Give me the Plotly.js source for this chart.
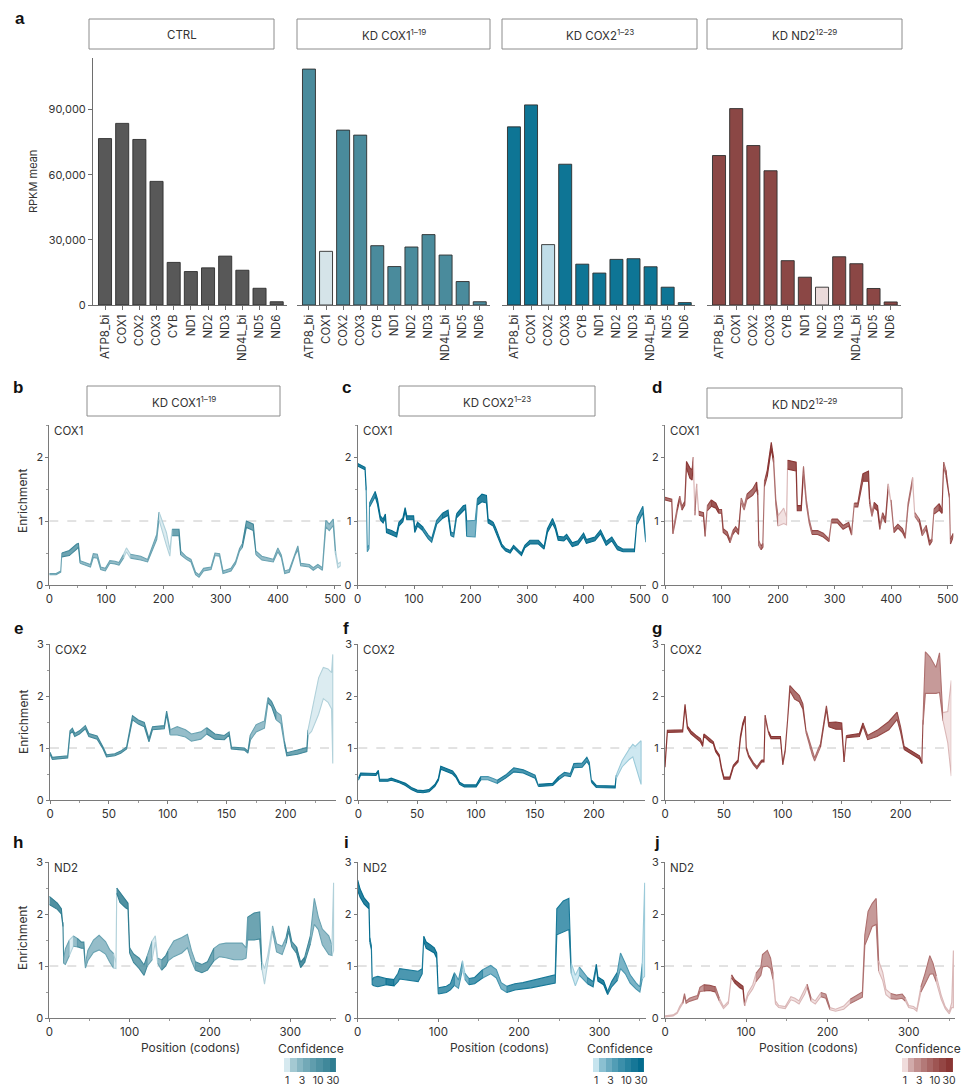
<!DOCTYPE html>
<html>
<head>
<meta charset="utf-8">
<script src="https://cdn.plot.ly/plotly-3.0.1.min.js"></script>
<style>
  html, body { margin: 0; padding: 0; background: #fff; }
  #fig { width: 974px; height: 1092px; }
</style>
</head>
<body>
<div id="fig"></div>
<script>
// ---------- Panel a: mean RPKM per mitochondrial transcript ----------
const genes = ['ATP8_bi', 'COX1', 'COX2', 'COX3', 'CYB', 'ND1', 'ND2', 'ND3', 'ND4L_bi', 'ND5', 'ND6'];
const conditions = ['CTRL', 'KD COX1<sup>1–19</sup>', 'KD COX2<sup>1–23</sup>', 'KD ND2<sup>12–29</sup>'];
const knockdownTargets = [null, 'COX1', 'COX2', 'ND2'];
const rpkmCtrl   = [76600, 83600, 76200, 56900, 19600, 15400, 17100, 22500, 16000, 7700, 1500];
const rpkmKdCox1 = [108600, 24700, 80500, 78200, 27300, 17700, 26700, 32400, 23000, 10800, 1500];
const rpkmKdCox2 = [82000, 92100, 27800, 64800, 18800, 14700, 21000, 21300, 17600, 8200, 1100];
const rpkmKdNd2  = [68800, 90400, 73400, 61800, 20400, 12800, 8200, 22200, 19000, 7600, 1400];

// ---------- Panels b–j: enrichment profiles along each ORF ----------
// pos = codon, enr = enrichment, band = half-width of the ribbon, conf = confidence
// b: COX1 in KD COX1
const cox1_kdCox1_pos  = [0,12,20,22,35,48,51,54,62,72,77,84,90,98,106,115,122,130,135,142,160,172,183,188,192,198,205,211,215,227,230,240,248,256,262,270,283,290,298,304,318,326,333,338,345,357,362,372,392,400,406,412,420,430,435,440,455,462,470,478,484,490,497,501,505,510];
const cox1_kdCox1_enr  = [0.17,0.17,0.21,0.47,0.50,0.60,0.62,0.36,0.33,0.30,0.46,0.45,0.26,0.24,0.36,0.35,0.33,0.45,0.55,0.45,0.42,0.38,0.62,0.75,1.08,0.90,0.72,0.50,0.82,0.82,0.50,0.42,0.38,0.18,0.14,0.24,0.26,0.48,0.47,0.20,0.24,0.35,0.55,0.62,0.95,0.90,0.50,0.42,0.38,0.55,0.45,0.20,0.22,0.48,0.58,0.32,0.30,0.25,0.30,0.25,0.96,0.90,0.98,0.50,0.30,0.33];
const cox1_kdCox1_band = [0.01,0.01,0.01,0.03,0.04,0.04,0.03,0.02,0.02,0.02,0.03,0.03,0.02,0.02,0.02,0.02,0.02,0.03,0.03,0.03,0.03,0.02,0.03,0.04,0.06,0.08,0.10,0.05,0.05,0.05,0.03,0.02,0.02,0.02,0.02,0.02,0.02,0.02,0.02,0.02,0.02,0.02,0.02,0.03,0.05,0.05,0.03,0.03,0.02,0.03,0.02,0.02,0.02,0.02,0.03,0.02,0.02,0.02,0.02,0.02,0.05,0.05,0.05,0.03,0.03,0.03];
const cox1_kdCox1_conf = [3,3,3,10,10,10,10,3,3,3,3,3,3,3,3,3,3,1,1,3,3,3,3,3,1,1,1,1,10,10,3,3,3,3,3,3,3,3,3,3,3,3,3,10,10,10,3,3,3,3,3,3,3,3,3,3,3,3,3,3,3,3,3,1,1,1];

// c: COX1 in KD COX2
const cox1_kdCox2_pos  = [0,13,15,17,20,21,31,35,40,45,49,51,60,69,73,80,84,87,99,101,106,115,125,131,140,150,160,165,170,175,187,191,193,208,212,220,228,231,240,245,255,262,270,276,285,290,296,305,320,330,336,345,350,355,365,370,380,390,400,405,420,430,440,450,460,470,490,495,505,510];
const cox1_kdCox2_enr  = [1.88,1.82,1.50,0.55,0.60,1.25,1.42,1.30,1.05,1.00,1.08,0.85,0.82,0.78,0.95,1.02,1.18,1.05,1.05,0.85,0.95,0.88,0.75,0.70,0.98,1.08,1.13,0.80,0.78,1.08,1.20,1.22,0.88,0.88,1.30,1.36,1.34,1.00,0.95,0.85,0.62,0.55,0.52,0.60,0.52,0.48,0.60,0.67,0.67,0.58,0.85,1.00,0.90,0.73,0.72,0.76,0.63,0.66,0.78,0.68,0.72,0.83,0.65,0.72,0.58,0.54,0.54,1.00,1.18,0.70];
const cox1_kdCox2_band = [0.02,0.02,0.02,0.03,0.03,0.03,0.04,0.04,0.03,0.03,0.03,0.03,0.03,0.03,0.03,0.03,0.03,0.03,0.03,0.03,0.03,0.03,0.03,0.03,0.03,0.04,0.04,0.03,0.03,0.03,0.04,0.03,0.12,0.13,0.05,0.06,0.06,0.03,0.03,0.03,0.02,0.02,0.02,0.02,0.02,0.02,0.02,0.03,0.03,0.02,0.03,0.04,0.03,0.03,0.03,0.03,0.03,0.03,0.03,0.03,0.03,0.03,0.03,0.03,0.03,0.02,0.02,0.05,0.05,0.03];
const cox1_kdCox2_conf = [30,30,3,3,3,10,30,30,30,30,30,30,30,30,30,30,30,30,30,30,30,10,10,10,10,30,30,10,10,30,30,30,3,3,30,30,30,30,30,30,30,30,30,30,30,30,30,30,30,30,30,30,30,30,30,30,30,30,30,30,30,30,30,30,30,30,30,10,10,10];

// d: COX1 in KD ND2
const cox1_kdNd2_pos  = [0,12,14,18,22,26,30,35,38,44,48,50,53,56,60,68,71,75,82,90,95,100,103,110,115,120,125,130,135,140,145,155,162,164,166,170,173,176,181,185,188,192,196,200,210,215,217,232,234,241,245,250,255,260,270,280,290,295,305,315,325,330,335,341,350,360,362,366,370,376,380,385,390,395,400,405,412,420,425,430,438,442,450,455,462,468,472,476,485,490,493,497,503,505,510];
const cox1_kdNd2_enr  = [1.35,1.32,0.82,1.00,1.20,1.36,1.20,1.28,1.88,1.75,1.72,1.95,1.12,1.55,1.12,1.10,0.78,1.20,1.28,1.24,1.15,1.15,0.85,0.80,0.68,0.82,0.88,0.82,1.32,1.20,1.38,1.45,1.55,1.45,0.65,0.58,0.62,1.58,1.75,2.00,2.18,1.95,1.30,1.00,1.08,1.00,1.88,1.85,1.20,1.20,1.80,1.30,1.00,0.82,0.82,0.78,0.70,1.00,1.00,0.90,0.95,0.80,1.25,1.25,1.68,1.70,1.30,1.10,1.25,1.20,0.90,1.10,1.00,1.55,1.30,0.85,0.92,0.85,0.75,1.25,1.65,1.10,1.00,0.80,0.90,0.65,0.70,1.15,1.22,1.15,1.88,1.75,1.40,0.68,0.78];
const cox1_kdNd2_band = [0.02,0.02,0.02,0.03,0.03,0.03,0.03,0.03,0.05,0.08,0.08,0.05,0.03,0.03,0.03,0.03,0.02,0.04,0.05,0.04,0.03,0.03,0.03,0.03,0.02,0.03,0.03,0.03,0.04,0.03,0.04,0.05,0.06,0.04,0.04,0.03,0.03,0.04,0.05,0.06,0.05,0.04,0.04,0.08,0.12,0.06,0.07,0.07,0.04,0.04,0.05,0.04,0.03,0.03,0.03,0.03,0.02,0.03,0.03,0.03,0.03,0.02,0.03,0.03,0.06,0.08,0.04,0.03,0.04,0.04,0.03,0.03,0.03,0.03,0.03,0.03,0.03,0.03,0.02,0.03,0.03,0.03,0.03,0.03,0.03,0.03,0.02,0.04,0.05,0.03,0.04,0.04,0.03,0.04,0.03];
const cox1_kdNd2_conf = [10,10,3,3,10,3,10,10,30,30,30,1,3,1,10,10,3,10,30,30,10,10,10,10,3,10,10,10,3,3,10,10,30,10,3,10,3,10,30,30,30,3,3,1,1,1,30,30,30,30,3,3,3,10,10,10,3,10,10,10,10,3,10,10,30,30,3,3,30,30,3,10,10,1,3,10,10,10,3,3,1,3,10,3,10,10,3,10,30,10,3,10,3,10,3];

// e: COX2 in KD COX1
const cox2_kdCox1_pos  = [0,2,15,17,19,21,25,30,33,40,45,48,55,60,65,68,70,75,80,84,87,97,99,102,108,115,120,128,133,140,148,152,154,165,168,170,175,182,185,188,192,196,199,201,210,218,219,222,228,232,236,239,240];
const cox2_kdCox1_enr  = [0.90,0.80,0.83,1.30,1.35,1.25,1.30,1.40,1.25,1.20,1.00,0.85,0.87,0.92,1.00,1.35,1.58,1.50,1.45,1.15,1.38,1.40,1.68,1.30,1.33,1.28,1.20,1.24,1.33,1.22,1.20,1.28,1.00,0.98,0.92,1.20,1.38,1.45,1.92,1.85,1.62,1.55,1.10,0.88,0.92,0.97,1.30,1.50,2.00,2.25,2.20,2.10,1.75];
const cox2_kdCox1_band = [0.02,0.02,0.02,0.03,0.03,0.03,0.03,0.03,0.03,0.03,0.02,0.02,0.02,0.02,0.02,0.03,0.04,0.04,0.04,0.03,0.03,0.03,0.03,0.05,0.08,0.07,0.07,0.07,0.06,0.05,0.04,0.03,0.02,0.02,0.02,0.05,0.07,0.07,0.05,0.05,0.08,0.08,0.03,0.03,0.04,0.04,0.05,0.18,0.35,0.30,0.32,0.35,1.05];
const cox2_kdCox1_conf = [10,10,10,10,10,10,10,10,10,10,10,10,10,10,10,10,10,10,10,10,10,10,10,3,3,3,3,3,10,10,10,10,10,10,10,3,3,3,10,10,3,3,10,10,10,10,1,1,1,1,1,1,1];

// f: COX2 in KD COX2
const cox2_kdCox2_pos  = [0,2,15,17,18,25,28,35,40,45,50,55,60,65,68,70,75,80,83,86,90,100,104,110,115,118,125,132,140,150,153,165,170,175,180,183,190,194,196,198,202,218,219,224,230,233,235,240];
const cox2_kdCox2_enr  = [0.40,0.50,0.49,0.55,0.38,0.38,0.40,0.35,0.30,0.22,0.17,0.16,0.18,0.28,0.40,0.62,0.57,0.53,0.45,0.32,0.27,0.27,0.42,0.42,0.38,0.35,0.45,0.58,0.55,0.45,0.28,0.30,0.42,0.50,0.48,0.66,0.67,0.78,0.70,0.36,0.26,0.25,0.45,0.70,0.88,0.95,0.85,0.72];
const cox2_kdCox2_band = [0.02,0.02,0.02,0.02,0.02,0.02,0.02,0.02,0.02,0.02,0.02,0.02,0.02,0.02,0.02,0.03,0.03,0.03,0.02,0.02,0.02,0.02,0.03,0.03,0.03,0.03,0.03,0.04,0.03,0.03,0.02,0.02,0.03,0.03,0.03,0.04,0.04,0.04,0.03,0.02,0.02,0.02,0.03,0.06,0.10,0.12,0.18,0.42];
const cox2_kdCox2_conf = [30,30,30,30,30,30,30,30,30,30,30,30,30,30,30,30,30,30,30,30,30,30,3,3,3,10,10,10,10,10,30,30,10,10,10,10,10,10,10,30,30,30,1,1,1,1,1,1];

// g: COX2 in KD ND2
const cox2_kdNd2_pos  = [0,2,15,17,19,22,27,30,32,33,38,41,43,46,48,50,55,58,62,64,66,68,69,71,75,78,82,84,85,88,90,98,100,102,104,106,110,114,117,120,125,127,130,132,135,137,139,145,150,152,154,165,168,172,180,190,197,200,203,210,216,218,219,221,225,230,233,236,240,243];
const cox2_kdNd2_enr  = [0.65,1.32,1.33,1.82,1.40,1.30,1.20,1.15,1.05,1.25,1.15,1.10,0.95,0.85,0.60,0.42,0.42,0.65,0.75,1.20,1.45,1.58,1.00,0.85,0.70,0.62,0.75,0.75,1.60,1.30,1.20,1.20,0.70,0.95,1.50,2.15,2.02,1.95,1.80,1.30,0.90,0.78,0.95,1.05,1.45,1.78,1.45,1.43,1.42,0.75,1.22,1.25,1.45,1.20,1.28,1.43,1.62,1.35,1.00,0.90,0.82,0.72,1.50,2.45,2.40,2.30,2.45,1.60,1.40,1.38];
const cox2_kdNd2_band = [0.02,0.02,0.02,0.02,0.02,0.03,0.03,0.03,0.02,0.02,0.03,0.02,0.02,0.02,0.02,0.02,0.02,0.02,0.02,0.03,0.03,0.03,0.02,0.02,0.02,0.02,0.02,0.02,0.03,0.02,0.02,0.02,0.02,0.02,0.03,0.05,0.08,0.06,0.05,0.03,0.03,0.03,0.03,0.03,0.03,0.03,0.04,0.07,0.06,0.02,0.02,0.03,0.03,0.04,0.06,0.08,0.07,0.05,0.03,0.03,0.03,0.02,0.05,0.40,0.35,0.25,0.38,0.08,0.30,0.92];
const cox2_kdNd2_conf = [30,30,30,30,30,30,30,30,30,30,30,30,30,30,30,30,30,30,30,30,30,10,10,10,10,10,30,30,10,30,30,30,10,10,10,10,10,10,10,3,3,3,3,10,10,10,30,30,30,10,30,30,10,10,10,10,10,10,30,30,30,10,3,3,3,3,3,1,1,1];

// h: ND2 in KD COX1
const nd2_kdCox1_pos  = [0,10,15,17,18,20,25,30,35,40,43,45,48,55,62,70,75,80,83,84,88,95,98,100,105,112,118,122,128,132,135,140,145,148,155,165,172,177,182,190,197,205,212,220,230,240,245,247,255,262,265,268,272,278,283,290,295,298,302,308,313,318,325,330,335,340,348,352,354];
const nd2_kdCox1_enr  = [2.26,2.15,2.05,1.80,1.10,1.18,1.35,1.48,1.45,1.40,1.40,1.00,1.20,1.38,1.45,1.35,1.20,1.10,1.00,2.45,2.32,2.20,2.15,1.30,1.15,1.05,0.92,1.10,1.30,1.52,1.10,1.02,1.10,1.20,1.33,1.40,1.48,1.20,1.00,0.95,1.00,1.22,1.30,1.30,1.28,1.28,1.25,1.72,1.76,1.78,1.00,0.80,1.10,1.72,1.35,1.30,1.50,1.72,1.42,1.30,1.02,1.12,1.50,2.05,1.82,1.56,1.40,1.30,1.95];
const nd2_kdCox1_band = [0.08,0.06,0.05,0.04,0.05,0.15,0.15,0.10,0.08,0.06,0.06,0.04,0.10,0.12,0.14,0.12,0.12,0.14,0.05,0.05,0.10,0.08,0.06,0.05,0.08,0.10,0.10,0.10,0.18,0.06,0.05,0.10,0.10,0.10,0.15,0.15,0.13,0.10,0.08,0.08,0.08,0.12,0.12,0.14,0.16,0.16,0.10,0.22,0.26,0.26,0.08,0.15,0.10,0.05,0.08,0.08,0.06,0.05,0.05,0.06,0.05,0.05,0.08,0.25,0.12,0.15,0.18,0.10,0.65];
const nd2_kdCox1_conf = [30,30,30,10,3,3,1,3,10,10,10,3,3,3,3,3,3,1,1,30,30,30,30,10,10,10,10,3,1,1,3,10,10,3,3,3,3,3,10,10,10,3,3,3,3,3,3,10,10,10,1,1,1,3,3,3,10,10,10,30,30,10,3,3,3,3,3,1,1];

// i: ND2 in KD COX2
const nd2_kdCox2_pos  = [0,3,8,14,15,17,18,20,25,35,45,50,52,65,75,80,82,85,90,95,98,100,110,115,120,125,130,133,138,145,155,165,172,178,185,195,205,215,225,235,245,247,255,262,265,270,275,285,292,296,298,305,310,315,322,326,332,338,345,350,353,356];
const nd2_kdCox2_enr  = [2.55,2.40,2.25,2.15,1.50,1.35,0.68,0.70,0.70,0.70,0.68,0.78,0.85,0.82,0.80,0.90,1.52,1.40,1.35,1.30,1.20,0.52,0.55,0.60,0.75,0.65,1.02,0.80,0.70,0.72,0.85,0.93,0.85,0.62,0.55,0.60,0.62,0.65,0.68,0.72,0.75,1.85,1.95,2.00,0.95,0.72,0.90,0.72,0.65,1.00,0.75,0.68,0.48,0.65,0.80,1.10,0.95,0.75,0.62,0.55,0.90,1.70];
const nd2_kdCox2_band = [0.10,0.08,0.06,0.05,0.04,0.04,0.04,0.08,0.10,0.06,0.06,0.08,0.10,0.10,0.10,0.05,0.05,0.06,0.06,0.05,0.05,0.06,0.06,0.06,0.12,0.08,0.08,0.06,0.06,0.06,0.08,0.08,0.08,0.06,0.06,0.06,0.06,0.07,0.08,0.08,0.08,0.25,0.30,0.30,0.10,0.10,0.08,0.06,0.05,0.03,0.04,0.04,0.03,0.05,0.08,0.15,0.10,0.08,0.06,0.05,0.15,0.90];
const nd2_kdCox2_conf = [30,30,30,30,10,10,10,10,10,30,10,10,10,10,10,10,30,30,30,30,30,10,10,10,3,3,1,3,10,10,3,3,3,3,10,10,10,10,10,10,10,10,10,10,1,1,3,10,10,30,30,30,10,10,3,3,3,3,3,3,1,1];

// j: ND2 in KD ND2
const nd2_kdNd2_pos  = [0,10,15,18,22,24,26,30,35,40,43,48,55,62,67,72,78,82,86,92,96,98,102,108,112,118,120,126,130,133,136,140,148,155,160,165,172,175,180,185,192,198,203,210,220,228,235,243,246,250,255,260,263,268,272,278,285,292,296,300,306,310,315,320,326,330,334,340,345,350,353,355];
const nd2_kdNd2_enr  = [0.03,0.05,0.10,0.20,0.30,0.45,0.30,0.35,0.38,0.40,0.55,0.58,0.58,0.55,0.35,0.20,0.30,0.80,0.70,0.62,0.58,0.25,0.45,0.60,0.78,0.90,1.10,1.15,1.05,0.80,0.30,0.22,0.20,0.38,0.35,0.30,0.50,0.62,0.35,0.30,0.45,0.42,0.18,0.15,0.20,0.32,0.38,0.45,1.50,1.80,1.98,2.05,1.00,0.80,0.50,0.42,0.40,0.42,0.35,0.22,0.20,0.15,0.55,0.75,1.02,0.95,0.75,0.40,0.20,0.10,0.25,0.75];
const nd2_kdNd2_band = [0.01,0.01,0.01,0.02,0.02,0.02,0.02,0.03,0.03,0.03,0.04,0.06,0.05,0.05,0.03,0.02,0.02,0.03,0.03,0.04,0.03,0.02,0.03,0.04,0.08,0.08,0.12,0.15,0.10,0.06,0.03,0.02,0.02,0.03,0.03,0.03,0.04,0.03,0.03,0.03,0.04,0.04,0.02,0.02,0.03,0.04,0.05,0.05,0.10,0.25,0.22,0.25,0.10,0.08,0.05,0.05,0.04,0.04,0.03,0.02,0.02,0.02,0.05,0.10,0.18,0.10,0.06,0.04,0.02,0.02,0.05,0.55];
const nd2_kdNd2_conf = [1,1,1,1,3,3,3,3,3,3,3,10,10,3,1,1,1,10,30,30,30,1,1,1,3,3,3,3,3,1,1,1,1,1,1,1,1,3,1,1,3,3,1,1,1,3,3,3,3,3,3,3,1,1,1,3,3,3,1,1,1,1,3,3,3,3,1,1,1,1,1,1];

// confidence key steps (log-spaced)
const confKeySteps = [1, 1.6, 2.6, 4.2, 6.8, 11, 18, 30];
const confKeyLabels = [1, 3, 10, 30];

// ---------- helpers ----------
const W = 974, H = 1092;
const px = v => v / W;
const py = v => 1 - v / H;
const xdom = (a, b) => [a / W, b / W];
const ydom = (top, bottom) => [1 - bottom / H, 1 - top / H];
const FONT = "Inter, 'Liberation Sans', Arial, sans-serif";

const palettes = {
  kdCox1: { light: [214, 233, 239], dark: [48, 125, 145] },
  kdCox2: { light: [198, 228, 238], dark: [4, 108, 142] },
  kdNd2:  { light: [240, 220, 220], dark: [138, 54, 52] }
};
function mixRgb(a, b, t) {
  return a.map((v, i) => Math.round(v + (b[i] - v) * t));
}
function confT(conf) {
  const t = Math.min(1, Math.max(0, Math.log(conf) / Math.log(30)));
  return Math.pow(t, 0.6);
}
const rgbStr = (c, alpha) => alpha === undefined ? 'rgb(' + c.join(',') + ')' : 'rgba(' + c.join(',') + ',' + alpha + ')';
const confColor = (pal, conf, alpha) => rgbStr(mixRgb(pal.light, pal.dark, confT(conf)), alpha);
// outline of a ribbon: a touch deeper than its fill so thin stretches stay legible
const confEdge = (pal, conf) => rgbStr(mixRgb(pal.light, pal.dark, Math.min(1, confT(conf) * 0.85 + 0.22)));

const traces = [];
const shapes = [];
const annotations = [];
const layout = {
  width: W, height: H,
  margin: { l: 0, r: 0, t: 0, b: 0 },
  paper_bgcolor: '#ffffff', plot_bgcolor: 'rgba(0,0,0,0)',
  showlegend: false,
  font: { family: FONT, size: 11, color: '#333' },
  bargap: 0.24
};

function addText(text, x, y, opts) {
  annotations.push(Object.assign({
    text: text, x: px(x), y: py(y), xref: 'paper', yref: 'paper',
    showarrow: false, xanchor: 'center', yanchor: 'middle',
    font: { family: FONT, size: 11.5, color: '#333' }
  }, opts || {}));
}
function addStrip(text, x0, x1, y0, y1) {
  shapes.push({ type: 'rect', xref: 'paper', yref: 'paper', x0: px(x0), x1: px(x1), y0: py(y1), y1: py(y0),
    line: { color: '#8c8c8c', width: 1 }, fillcolor: '#ffffff', layer: 'below' });
  addText(text, (x0 + x1) / 2, (y0 + y1) / 2 + 1, { font: { family: FONT, size: 11.5, color: '#333' } });
}
function addLetter(letter, x, y) {
  addText('<b>' + letter + '</b>', x, y, { font: { family: "'Liberation Sans', Arial, sans-serif", size: 17, color: '#111' } });
}

// ---------- panel a ----------
const rpkmGroups = [rpkmCtrl, rpkmKdCox1, rpkmKdCox2, rpkmKdNd2];
const barColors = [
  { main: '#585858', faint: '#585858' },
  { main: '#4a8b9c', faint: '#d5e4e9' },
  { main: '#0e7595', faint: '#c0dde8' },
  { main: '#8b4745', faint: '#eadada' }
];
const barDomains = [[93, 287], [297, 490], [502, 695], [707, 901]];
const stripA = [[89, 274], [297, 490], [502, 697], [707, 902]];

rpkmGroups.forEach((vals, k) => {
  const xa = k === 0 ? 'x' : 'x' + (k + 1);
  traces.push({
    type: 'bar', x: genes, y: vals, xaxis: xa, yaxis: 'y',
    marker: {
      color: genes.map(g => g === knockdownTargets[k] ? barColors[k].faint : barColors[k].main),
      line: { color: '#2e2e2e', width: 0.9 }
    },
    hoverinfo: 'x+y'
  });
  layout[k === 0 ? 'xaxis' : 'xaxis' + (k + 1)] = {
    domain: xdom(barDomains[k][0], barDomains[k][1]), anchor: 'y',
    type: 'category', range: [-0.7, 10.6], tickangle: -90,
    showline: true, linecolor: '#6e6e6e', linewidth: 1,
    ticks: 'outside', ticklen: 4, tickcolor: '#6e6e6e',
    showgrid: false, zeroline: false, fixedrange: true,
    tickfont: { family: FONT, size: 11.5, color: '#333' }
  };
  addStrip(conditions[k], stripA[k][0], stripA[k][1], 19, 49);
});
layout.yaxis = {
  domain: ydom(58, 305), anchor: 'x', range: [0, 113700],
  tickvals: [0, 30000, 60000, 90000], tickformat: ',',
  showline: true, linecolor: '#6e6e6e', linewidth: 1,
  ticks: 'outside', ticklen: 4, tickcolor: '#6e6e6e',
  showgrid: false, zeroline: false, fixedrange: true,
  tickfont: { family: FONT, size: 11, color: '#333' }
};
addText('RPKM mean', 33, 182, { textangle: -90, font: { family: FONT, size: 11, color: '#333' } });
addLetter('a', 20, 18);

// ---------- panels b–j ----------
const profiles = [
  { pos: cox1_kdCox1_pos, enr: cox1_kdCox1_enr, band: cox1_kdCox1_band, conf: cox1_kdCox1_conf, pal: 'kdCox1' },
  { pos: cox1_kdCox2_pos, enr: cox1_kdCox2_enr, band: cox1_kdCox2_band, conf: cox1_kdCox2_conf, pal: 'kdCox2' },
  { pos: cox1_kdNd2_pos,  enr: cox1_kdNd2_enr,  band: cox1_kdNd2_band,  conf: cox1_kdNd2_conf,  pal: 'kdNd2' },
  { pos: cox2_kdCox1_pos, enr: cox2_kdCox1_enr, band: cox2_kdCox1_band, conf: cox2_kdCox1_conf, pal: 'kdCox1' },
  { pos: cox2_kdCox2_pos, enr: cox2_kdCox2_enr, band: cox2_kdCox2_band, conf: cox2_kdCox2_conf, pal: 'kdCox2' },
  { pos: cox2_kdNd2_pos,  enr: cox2_kdNd2_enr,  band: cox2_kdNd2_band,  conf: cox2_kdNd2_conf,  pal: 'kdNd2' },
  { pos: nd2_kdCox1_pos,  enr: nd2_kdCox1_enr,  band: nd2_kdCox1_band,  conf: nd2_kdCox1_conf,  pal: 'kdCox1' },
  { pos: nd2_kdCox2_pos,  enr: nd2_kdCox2_enr,  band: nd2_kdCox2_band,  conf: nd2_kdCox2_conf,  pal: 'kdCox2' },
  { pos: nd2_kdNd2_pos,   enr: nd2_kdNd2_enr,   band: nd2_kdNd2_band,   conf: nd2_kdNd2_conf,   pal: 'kdNd2' }
];

// rows: gene, vertical extent, x max, tick spacing
const rows = [
  { gene: 'COX1', y: [425, 585], ymax: 2.5, xmax: 510, dtick: 100, minor: 50,
    cols: [[49.3, 340.7], [357.7, 645.7], [665, 953.3]] },
  { gene: 'COX2', y: [644, 800], ymax: 3, xmax: 243, dtick: 50, minor: 25,
    cols: [[50, 336.3], [358.3, 644.6], [665, 951.3]] },
  { gene: 'ND2', y: [862, 1018], ymax: 3, xmax: 357, dtick: 100, minor: 50,
    cols: [[49.3, 336], [357.7, 645.5], [665, 955]] }
];

function profileTraces(p, xa, ya) {
  const pal = palettes[p.pal];
  const n = p.pos.length;
  let i = 0;
  while (i < n - 1) {
    let j = i;
    while (j + 1 < n - 1 && p.conf[j + 1] === p.conf[i]) j++;
    const idx = [];
    for (let k = i; k <= j + 1; k++) idx.push(k);
    const xs = idx.map(k => p.pos[k]);
    const up = idx.map(k => p.enr[k] + p.band[k]);
    const lo = idx.map(k => Math.max(0, p.enr[k] - p.band[k]));
    traces.push({
      type: 'scatter', mode: 'lines', xaxis: xa, yaxis: ya,
      x: xs.concat(xs.slice().reverse()),
      y: up.concat(lo.slice().reverse()),
      fill: 'toself', fillcolor: confColor(pal, p.conf[i], 0.85),
      line: { color: confEdge(pal, p.conf[i]), width: 1.1 },
      hoverinfo: 'skip'
    });
    i = j + 1;
  }
}

const letters = [['b', 'c', 'd'], ['e', 'f', 'g'], ['h', 'i', 'j']];
const letterY = [387, 628, 842];
const letterX = [18, 346, 657];
const enrichY = [501, 722, 938];

rows.forEach((row, r) => {
  row.cols.forEach((col, c) => {
    const n = 5 + r * 3 + c;
    const xa = 'x' + n, ya = 'y' + n;
    layout['xaxis' + n] = {
      domain: xdom(col[0], col[1]), anchor: ya, range: [0, row.xmax],
      tick0: 0, dtick: row.dtick,
      showline: true, linecolor: '#7a7a7a', linewidth: 1,
      ticks: 'outside', ticklen: 3, tickcolor: '#7a7a7a',
      minor: { ticks: 'outside', dtick: row.minor, ticklen: 2, tickcolor: '#9a9a9a' },
      showgrid: false, zeroline: false, fixedrange: true,
      tickfont: { family: FONT, size: 11.5, color: '#333' }
    };
    layout['yaxis' + n] = {
      domain: ydom(row.y[0], row.y[1]), anchor: xa, range: [0, row.ymax],
      tick0: 0, dtick: 1,
      showline: true, linecolor: '#7a7a7a', linewidth: 1,
      ticks: 'outside', ticklen: 3, tickcolor: '#7a7a7a',
      minor: { ticks: 'outside', dtick: 0.5, ticklen: 2, tickcolor: '#9a9a9a' },
      showgrid: false, zeroline: false, fixedrange: true,
      tickfont: { family: FONT, size: 11, color: '#333' }
    };
    shapes.push({ type: 'line', xref: xa, yref: ya, x0: 0, x1: row.xmax, y0: 1, y1: 1,
      line: { color: '#c6c6c6', width: 1, dash: 'dash' }, layer: 'below' });
    profileTraces(profiles[r * 3 + c], xa, ya);
    addText(row.gene, col[0] + 3, row.y[0] + 6, { xanchor: 'left', font: { family: FONT, size: 11.5, color: '#333' } });
    addLetter(letters[r][c], letterX[c], letterY[r]);
    if (r === 2) {
      addText('Position (codons)', (col[0] + col[1]) / 2 - 2, 1047, { font: { family: FONT, size: 12, color: '#333' } });
    }
  });
  addText('Enrichment', 23, enrichY[r], { textangle: -90, font: { family: FONT, size: 12, color: '#333' } });
});

// condition strips above the profile rows
addStrip(conditions[1], 87, 280, 386, 416);
addStrip(conditions[2], 399, 595, 386, 416);
addStrip(conditions[3], 707, 902, 388, 418);

// ---------- confidence keys ----------
const keyPal = ['kdCox1', 'kdCox2', 'kdNd2'];
const keyX = [[284, 338], [593, 646], [902, 954]];
keyPal.forEach((pk, c) => {
  const n = 14 + c;
  const pal = palettes[pk];
  const zmax = Math.log10(30);
  const scale = [];
  for (let s = 0; s <= 10; s++) scale.push([s / 10, confColor(pal, Math.pow(10, zmax * s / 10))]);
  traces.push({
    type: 'heatmap', xaxis: 'x' + n, yaxis: 'y' + n,
    x: confKeySteps.map(v => Math.log10(v)), y: [0],
    z: [confKeySteps.map(v => Math.log10(v))],
    zmin: 0, zmax: zmax, colorscale: scale, showscale: false, hoverinfo: 'skip'
  });
  layout['xaxis' + n] = {
    domain: xdom(keyX[c][0], keyX[c][1]), anchor: 'y' + n, range: [-0.1, 1.64],
    tickvals: confKeyLabels.map(v => Math.log10(v)), ticktext: confKeyLabels.map(String),
    tickangle: 0, ticks: '', ticklen: 0,
    showline: false, showgrid: false, zeroline: false, fixedrange: true,
    tickfont: { family: FONT, size: 10.5, color: '#333' }
  };
  layout['yaxis' + n] = {
    domain: ydom(1058, 1072), anchor: 'x' + n, range: [-0.5, 0.5],
    showticklabels: false, ticks: '', showline: false, showgrid: false, zeroline: false, fixedrange: true
  };
  addText('Confidence', (keyX[c][0] + keyX[c][1]) / 2, 1048, { font: { family: FONT, size: 12, color: '#333' } });
});

layout.shapes = shapes;
layout.annotations = annotations;

Plotly.newPlot('fig', traces, layout, { staticPlot: true, displayModeBar: false });
</script>
</body>
</html>
